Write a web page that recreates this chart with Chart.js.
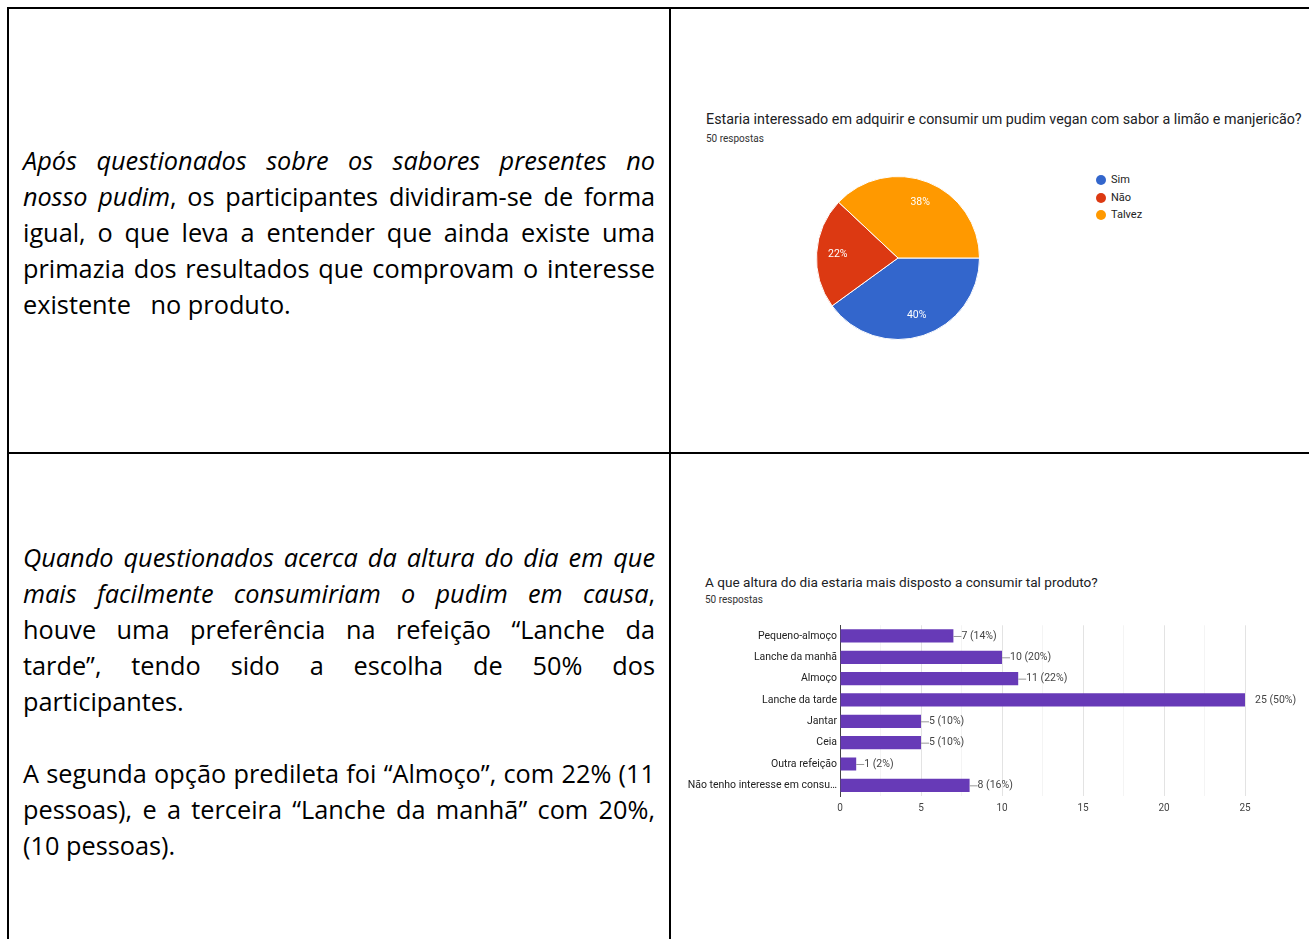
<!DOCTYPE html>
<html><head><meta charset="utf-8">
<script src="https://cdn.jsdelivr.net/npm/chart.js@4/dist/chart.umd.min.js"></script>
<style>
html,body{margin:0;padding:0;background:#fff;width:1309px;height:939px;overflow:hidden;position:relative}
.ln{position:absolute;background:#000}
.cell{position:absolute;left:23px;width:632px;font-family:"Open Sans",sans-serif;font-size:25.3px;color:#000}
.row{height:36px;line-height:36px;white-space:nowrap;text-align:justify;text-align-last:justify}
.row.last{text-align:left;text-align-last:left}
.t{position:absolute;font-family:Roboto,Arial,sans-serif;color:#202124;white-space:nowrap}
.sub{position:absolute;font-family:Roboto,Arial,sans-serif;color:#333;font-size:10px;white-space:nowrap}
.leg{position:absolute;font-family:Roboto,Arial,sans-serif;font-size:11px;color:#222;white-space:nowrap}
.dot{position:absolute;width:10px;height:10px;border-radius:50%}
canvas{position:absolute}
</style></head>
<body>
<div class="ln" style="left:7px;top:7px;width:1302px;height:2px"></div>
<div class="ln" style="left:7px;top:7px;width:2px;height:932px"></div>
<div class="ln" style="left:669px;top:7px;width:2px;height:932px"></div>
<div class="ln" style="left:7px;top:452px;width:1302px;height:2px"></div>

<div class="cell" style="top:142px">
<div class="row"><i>Após questionados sobre os sabores presentes no</i></div>
<div class="row"><i>nosso pudim</i>, os participantes dividiram-se de forma</div>
<div class="row">igual, o que leva a entender que ainda existe uma</div>
<div class="row">primazia dos resultados que comprovam o interesse</div>
<div class="row last">existente&nbsp;&nbsp; no produto.</div>
</div>

<div class="cell" style="top:539px">
<div class="row"><i>Quando questionados acerca da altura do dia em que</i></div>
<div class="row"><i>mais facilmente consumiriam o pudim em causa</i>,</div>
<div class="row">houve uma preferência na refeição “Lanche da</div>
<div class="row">tarde”, tendo sido a escolha de 50% dos</div>
<div class="row last">participantes.</div>
<div class="row last"></div>
<div class="row">A segunda opção predileta foi “Almoço”, com 22% (11</div>
<div class="row">pessoas), e a terceira “Lanche da manhã” com 20%,</div>
<div class="row last">(10 pessoas).</div>
</div>

<div class="t" id="t1" style="left:706px;top:111px;font-size:14.3px;line-height:16px"></div>
<div class="sub" style="left:706px;top:133px;line-height:12px">50 respostas</div>
<div id="legend"></div>
<canvas id="pie" width="180" height="180" style="left:808px;top:168px;width:180px;height:180px"></canvas>

<div class="t" id="t2" style="left:705px;top:574px;font-size:13.6px;line-height:16px"></div>
<div class="sub" style="left:705px;top:594px;line-height:12px">50 respostas</div>
<canvas id="bar" width="629" height="203" style="left:680px;top:616px;width:629px;height:203px"></canvas>

<script>
// ---- Data ----
const pieTitle = "Estaria interessado em adquirir e consumir um pudim vegan com sabor a limão e manjericão?";
const pieLabels = ["Sim", "Não", "Talvez"];
const pieCounts = [20, 11, 19];
const piePercents = [40, 22, 38];
const pieColors = ["#3366cc", "#dc3912", "#ff9900"];

const barTitle = "A que altura do dia estaria mais disposto a consumir tal produto?";
const barCategories = ["Pequeno-almoço", "Lanche da manhã", "Almoço", "Lanche da tarde", "Jantar", "Ceia", "Outra refeição", "Não tenho interesse em consu…"];
const barCounts = [7, 10, 11, 25, 5, 5, 1, 8];
const barPercents = [14, 20, 22, 50, 10, 10, 2, 16];
const xTicks = [0, 5, 10, 15, 20, 25];

document.getElementById('t1').textContent = pieTitle;
document.getElementById('t2').textContent = barTitle;

// squeeze justified rows whose natural width exceeds the cell
document.querySelectorAll('.row').forEach(r => {
  const w = r.clientWidth;
  const probe = document.createElement('span');
  while (r.firstChild) probe.appendChild(r.firstChild);
  r.appendChild(probe);
  let ls = 0;
  while (probe.getBoundingClientRect().width > w && ls > -2) { ls -= 0.1; r.style.letterSpacing = ls + 'px'; }
});

// legend
const lg = document.getElementById('legend');
pieLabels.forEach((l, i) => {
  const y = 180 + i * 17.5;
  const d = document.createElement('div'); d.className = 'dot';
  d.style.left = '1096px'; d.style.top = (y - 5) + 'px'; d.style.background = pieColors[i];
  lg.appendChild(d);
  const t = document.createElement('div'); t.className = 'leg';
  t.style.left = '1111px'; t.style.top = (y - 7) + 'px'; t.style.lineHeight = '14px'; t.textContent = l;
  lg.appendChild(t);
});

Chart.defaults.font.family = 'Roboto, Arial, sans-serif';

const pieLabelPlugin = {
  id: 'pieLabels',
  afterDatasetsDraw(chart) {
    const ctx = chart.ctx;
    const meta = chart.getDatasetMeta(0);
    ctx.save();
    ctx.fillStyle = '#fff';
    ctx.font = '10.5px Roboto, Arial, sans-serif';
    ctx.textAlign = 'center'; ctx.textBaseline = 'middle';
    meta.data.forEach((arc, i) => {
      const p = arc.getProps(['x', 'y', 'startAngle', 'endAngle', 'outerRadius']);
      const a = (p.startAngle + p.endAngle) / 2;
      const r = p.outerRadius * 0.74;
      ctx.fillText(piePercents[i] + '%', p.x + Math.cos(a) * r, p.y + Math.sin(a) * r);
    });
    ctx.restore();
  }
};

new Chart(document.getElementById('pie'), {
  type: 'pie',
  data: { labels: pieLabels, datasets: [{ data: pieCounts, backgroundColor: pieColors, borderColor: '#ffffff', borderWidth: 1 }] },
  options: {
    responsive: false, animation: false, devicePixelRatio: 1, rotation: 90,
    layout: { padding: 8 },
    plugins: { legend: { display: false }, tooltip: { enabled: false } }
  },
  plugins: [pieLabelPlugin]
});

const barLabelPlugin = {
  id: 'barLabels',
  afterDatasetsDraw(chart) {
    const ctx = chart.ctx;
    const meta = chart.getDatasetMeta(0);
    const maxV = Math.max(...barCounts);
    ctx.save();
    ctx.font = '10.5px Roboto, Arial, sans-serif';
    ctx.fillStyle = '#444'; ctx.textBaseline = 'middle'; ctx.textAlign = 'left';
    meta.data.forEach((bar, i) => {
      const txt = barCounts[i] + ' (' + barPercents[i] + '%)';
      if (barCounts[i] === maxV) {
        ctx.fillText(txt, bar.x + 10, bar.y);
      } else {
        ctx.strokeStyle = '#999'; ctx.lineWidth = 1;
        ctx.beginPath(); ctx.moveTo(bar.x, bar.y + 0.5); ctx.lineTo(bar.x + 8, bar.y + 0.5); ctx.stroke();
        ctx.fillText(txt, bar.x + 8, bar.y);
      }
    });
    ctx.restore();
  }
};

new Chart(document.getElementById('bar'), {
  type: 'bar',
  data: { labels: barCategories, datasets: [{ data: barCounts, backgroundColor: '#673ab7', borderWidth: 0, categoryPercentage: 1, barPercentage: 0.62 }] },
  options: {
    indexAxis: 'y', responsive: false, animation: false, devicePixelRatio: 1,
    layout: { padding: { top: 5, right: 64, left: 0, bottom: 0 } },
    plugins: { legend: { display: false }, tooltip: { enabled: false } },
    scales: {
      x: {
        min: xTicks[0], max: xTicks[xTicks.length - 1],
        afterFit(s) { s.height = 23; },
        afterBuildTicks(s) {
          const t = [];
          for (let k = 0; k < xTicks.length; k++) {
            t.push({ value: xTicks[k] });
            if (k < xTicks.length - 1) t.push({ value: (xTicks[k] + xTicks[k + 1]) / 2, minor: true });
          }
          s.ticks = t;
        },
        ticks: { color: '#444', font: { size: 10 }, padding: 6, autoSkip: false, maxRotation: 0,
          callback: (v) => xTicks.includes(v) ? String(v) : '' },
        grid: { drawTicks: false, color: (c) => (c.tick && xTicks.includes(c.tick.value)) ? '#e3e3e3' : '#f4f4f4' },
        border: { display: false }
      },
      y: {
        afterFit(s) { s.width = 160; },
        ticks: { color: '#222', font: { size: 10.5 }, padding: 3, autoSkip: false },
        grid: { display: false, drawTicks: false },
        border: { display: true, color: '#444', width: 1 }
      }
    }
  },
  plugins: [barLabelPlugin]
});
</script>
</body></html>
